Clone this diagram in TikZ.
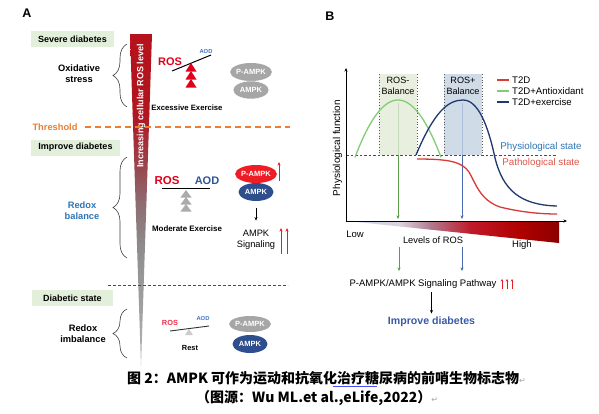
\documentclass[tikz,border=0pt]{standalone}
\usepackage{fontspec}
\setmainfont{Liberation Sans}
\newfontfamily\cjkfont{Noto Sans CJK SC}
\newfontfamily\symfont{DejaVu Sans}
\usetikzlibrary{arrows.meta,shapes.geometric,decorations.pathreplacing}

\definecolor{stagegreen}{HTML}{E2EFDA}
\definecolor{thresh}{HTML}{ED7D31}
\definecolor{rosred}{HTML}{E0001B}
\definecolor{rospink}{HTML}{F0304A}
\definecolor{aodblue}{HTML}{2F5597}
\definecolor{aodlight}{HTML}{4472C4}
\definecolor{redoxblue}{HTML}{2E75B6}
\definecolor{pillgray}{HTML}{A6A6A6}
\definecolor{trigray}{HTML}{ABABAB}
\definecolor{ampknavy}{HTML}{2E4E8E}
\definecolor{pampkred}{HTML}{EE1C25}
\definecolor{curvegreen}{HTML}{82CC74}
\definecolor{curvenavy}{HTML}{1F3A6E}
\definecolor{curvered}{HTML}{D93A35}
\definecolor{balgreen}{HTML}{E3EBD8}
\definecolor{balblue}{HTML}{C5D2E3}
\definecolor{arrgreen}{HTML}{5A9E48}
\definecolor{arrblue}{HTML}{4A6BB0}
\definecolor{pathred}{HTML}{E0554A}
\definecolor{improveblue}{HTML}{3A5AA6}
% wedge colours
\definecolor{wedgetip}{HTML}{B4B4B4}
\definecolor{wedgegray}{HTML}{8E8E8E}
\definecolor{wedgemauve}{HTML}{8E6A6E}
\definecolor{wedgebrown}{HTML}{9A4048}
\definecolor{wedgered}{HTML}{B01520}
\definecolor{wedgetop}{HTML}{B5121B}
\definecolor{lvlblue}{HTML}{C2D8EF}
\definecolor{lvlpale}{HTML}{DDD0DD}
\definecolor{lvlmauve}{HTML}{B07C90}
\definecolor{lvlred}{HTML}{C01A2A}
\definecolor{lvlred2}{HTML}{B00000}
\definecolor{lvldark}{HTML}{8B0000}

\begin{document}
\begin{tikzpicture}[x=1pt,y=-1pt,
    lbl/.style={font=\bfseries\fontsize{#1}{#1}\selectfont},
    txt/.style={font=\fontsize{#1}{#1}\selectfont},
    stagebox/.style={fill=stagegreen, minimum height=16pt, inner sep=0pt, lbl=9},
    curly/.style={decorate, decoration={brace, amplitude=14pt}, draw=black!75, line width=0.6pt},
    pill/.style={ellipse, minimum width=36pt, minimum height=18pt, inner sep=0pt, text=white, lbl=7.5},
    tip/.style={-{Stealth[length=3.5pt,width=3pt]}},
  ]
  \useasboundingbox[fill=white] (0,0) rectangle (599,413);

  %% ---------- panel A ----------
  \node[lbl=12.5] (labelA) at (27,13) {A};

  % increasing ROS wedge
  \begin{scope}
    \clip (130,34) -- (152,34) -- (141,366) -- cycle;
    \foreach \ya/\yb/\ca/\cb in {34/113.5/wedgetop/wedgered, 113/160.5/wedgered/wedgebrown,
        160/200.5/wedgebrown/wedgemauve, 200/250.5/wedgemauve/wedgegray, 250/366/wedgegray/wedgetip}
      \shade[top color=\ca, bottom color=\cb] (129,\ya) rectangle (153,\yb);
  \end{scope}
  \node[rotate=90, white, lbl=9] (roslevel) at (141,106) {Increasing cellular ROS level};

  % stages
  \node[stagebox, minimum width=83pt] (severe) at (72.5,39) {Severe diabetes};
  \node[stagebox, minimum width=89pt] (improveA) at (75.5,147.5) {Improve diabetes};
  \node[stagebox, minimum width=81pt] (diabetic) at (72.5,298) {Diabetic state};

  \draw[curly] (127,107) -- (127,44);
  \draw[curly] (127,258) -- (127,157);
  \draw[curly] (127,358) -- (127,309);

  \node[align=center, font=\bfseries\fontsize{9.3}{11}\selectfont] (oxid) at (79,74) {Oxidative\\stress};
  \node[align=center, redoxblue, font=\bfseries\fontsize{9.3}{11}\selectfont] (redox) at (82,211) {Redox\\balance};
  \node[align=center, font=\bfseries\fontsize{9.3}{11}\selectfont] (imbal) at (83,334) {Redox\\imbalance};

  % threshold
  \node[thresh, lbl=9.3] (threshold) at (55,127) {Threshold};
  \draw[thresh, line width=1.6pt, dash pattern=on 6pt off 4pt] (85,127) -- (290,127);
  \draw[black!70, line width=0.8pt, dash pattern=on 3pt off 2pt] (108,285) -- (288,285);

  % excessive exercise
  \node[rosred, lbl=11] (rosA) at (170,62) {ROS};
  \node[aodlight, lbl=5.8] (aodA) at (206,51) {AOD};
  \draw[line width=1pt] (172,71) -- (211,55);
  \foreach \ty in {63,71,79}
    \fill[rosred] (191,\ty) -- (196.5,\ty+8.5) -- (185.5,\ty+8.5) -- cycle;
  \node[lbl=7.7] (excessive) at (187,108) {Excessive Exercise};
  \node[pill, fill=pillgray] (pampkA) at (251,72) {P-AMPK};
  \node[pill, fill=pillgray, draw=white, line width=0.5pt] (ampkA) at (251,90) {AMPK};

  % moderate exercise
  \node[rosred, lbl=11.5] (rosB) at (167,181) {ROS};
  \node[aodblue, lbl=11] (aodB) at (207,181) {AOD};
  \draw[line width=1pt] (162,188) -- (210,188);
  \foreach \ty in {190,197,204}
    \fill[trigray] (186,\ty) -- (191.5,\ty+7.5) -- (180.5,\ty+7.5) -- cycle;
  \node[lbl=7.9] (moderate) at (187,229) {Moderate Exercise};
  \node[pill, fill=pampkred, minimum width=35pt] (pampkB) at (256,174) {P-AMPK};
  \node[pill, fill=ampknavy, minimum width=35pt] (ampkB) at (256,192) {AMPK};
  \node[align=center, font=\fontsize{9.3}{11.5}\selectfont] (signal) at (256,240) {AMPK\\Signaling};
  \draw[tip, shorten <=7pt, shorten >=6pt] (ampkB) -- (signal);
  \coordinate (upA1) at (279,181); \coordinate (upA2) at (279,162);
  \draw[tip, pampkred, line width=0.8pt] (upA1) -- (upA2);
  \foreach \ux in {281,287}{
    \coordinate (sigup\ux) at (\ux,254);
    \draw[tip, pampkred, line width=0.8pt] (sigup\ux) -- ++(0,-26);
  }

  % rest
  \node[rospink, lbl=7.4] (rosC) at (170,323) {ROS};
  \node[aodlight, lbl=5.8] (aodC) at (203,318) {AOD};
  \draw[black!80, line width=0.9pt] (170,331) -- (209,326);
  \fill[black!20] (189,329) -- (193,335) -- (185,335) -- cycle;
  \node[lbl=7.4] (rest) at (190,348) {Rest};
  \node[pill, fill=pillgray, minimum width=35pt, minimum height=16pt] (pampkC) at (250,324) {P-AMPK};
  \node[pill, fill=ampknavy, minimum width=35pt, minimum height=18pt] (ampkC) at (250,344) {AMPK};

  %% ---------- panel B ----------
  \node[lbl=12.5] (labelB) at (330,16) {B};

  % vertical markers through the boxes
  \coordinate (gpeak) at (398,103); \coordinate (gaxis) at (398,219);
  \coordinate (bpeak) at (462,103); \coordinate (baxis) at (462,219);
  \draw[tip, arrgreen, line width=0.8pt] (gpeak) -- (gaxis);
  \draw[tip, arrblue, line width=0.8pt] (bpeak) -- (baxis);

  \fill[balgreen, opacity=0.8] (379,74) rectangle (417,155);
  \fill[balblue, opacity=0.8] (444,74) rectangle (482,155);
  \foreach \bx in {379,417,444,482}
    \draw[black!65, line width=0.8pt, dotted] (\bx,74) -- (\bx,155);
  \node[align=center, font=\fontsize{9.1}{11}\selectfont] (rosminus) at (398,86) {ROS-\\Balance};
  \node[align=center, font=\fontsize{9.1}{11}\selectfont] (rosplus) at (463,86) {ROS+\\Balance};

  % physiological threshold
  \draw[black!70, line width=0.8pt, dash pattern=on 2.5pt off 2pt] (346,155) -- (557,155);

  % levels of ROS wedge
  \begin{scope}
    \clip (347,221) -- (559,221) -- (559,243) -- cycle;
    \foreach \xa/\xb/\ca/\cb in {347/400.5/lvlblue/lvlpale, 400/430.5/lvlpale/lvlmauve,
        430/470.5/lvlmauve/lvlred, 470/520.5/lvlred/lvlred2, 520/560/lvlred2/lvldark}
      \shade[left color=\ca, right color=\cb] (\xa,220) rectangle (\xb,244);
  \end{scope}

  % axes
  \coordinate (origin) at (346,221);
  \coordinate (ytop) at (346,68);
  \coordinate (xend) at (567,221);
  \draw[tip, line width=0.8pt] (origin) -- (ytop);
  \draw[tip, line width=0.8pt] (origin) -- (xend);
  \node[rotate=90, txt=10] (yaxis) at (337.5,148) {Physiological function};

  % curves
  \draw[curvegreen, line width=1.3pt] plot[domain=355:441, samples=40] (\x, {100+0.031*(\x-398)^2});
  \draw[curvenavy, line width=1.3pt] (416,155) .. controls (434,112) and (448,100) .. (463,100)
      .. controls (478,100) and (488,125) .. (495,158)
      .. controls (503,190) and (520,205) .. (557,206);
  \draw[curvered, line width=1.3pt] (417,159) .. controls (450,159) and (462,162) .. (469,172)
      .. controls (476,184) and (480,200) .. (500,207)
      .. controls (520,212) and (540,214) .. (557,214);

  % legend
  \foreach \ly/\lc/\lt in {80/curvered/T2D, 91/curvegreen/T2D+Antioxidant, 102/curvenavy/T2D+exercise}{
    \draw[\lc, line width=1.3pt] (497,\ly) -- (509,\ly);
    \node[anchor=west, inner sep=0pt, txt=9.6] at (512,\ly) {\lt};
  }
  \node[redoxblue, txt=9.8] (physstate) at (541,147) {Physiological state};
  \node[pathred, txt=9.8] (pathstate) at (541,163) {Pathological state};

  \node[txt=9.5] (low) at (355,234) {Low};
  \node[txt=9.3] (levels) at (433,240) {Levels of ROS};
  \node[txt=9.5] (high) at (522,245) {High};

  % towards signalling
  \node[txt=9.5] (pathway) at (423,284) {P-AMPK/AMPK Signaling Pathway};
  \coordinate (gdown) at (399,247); \coordinate (bdown) at (462,247);
  \draw[tip, arrgreen, line width=0.8pt] (gdown) -- ++(0,24);
  \draw[tip, arrblue, line width=0.8pt] (bdown) -- ++(0,24);
  \foreach \ux in {502,507,512}{
    \coordinate (pup\ux) at (\ux,289);
    \draw[-{Stealth[length=2.5pt,width=2.5pt]}, pampkred, line width=0.6pt] (pup\ux) -- ++(0,-10);
  }
  \node[improveblue, lbl=10.6] (improveB) at (431.5,322) {Improve diabetes};
  \draw[tip, line width=0.9pt] (improveB.north |- pathway.south) -- (improveB.north);

  %% ---------- caption ----------
  \node[anchor=west, inner sep=0pt, font=\cjkfont\bfseries\fontsize{14}{14}\selectfont] (cap1) at (127,378)
    {图 2：AMPK 可作为运动和抗氧化治疗糖尿病的前哨生物标志物{\symfont\mdseries\color{black!35}\fontsize{8}{8}\selectfont↵}};
  \node[anchor=west, inner sep=0pt, font=\cjkfont\bfseries\fontsize{14}{14}\selectfont] (cap2) at (196,398)
    {（图源：Wu ML.et al.,eLife,2022）{\symfont\mdseries\color{black!35}\fontsize{8}{8}\selectfont ↵}};
  \draw[blue!70, line width=0.5pt] (333,386) -- (377,386);
\end{tikzpicture}
\end{document}
